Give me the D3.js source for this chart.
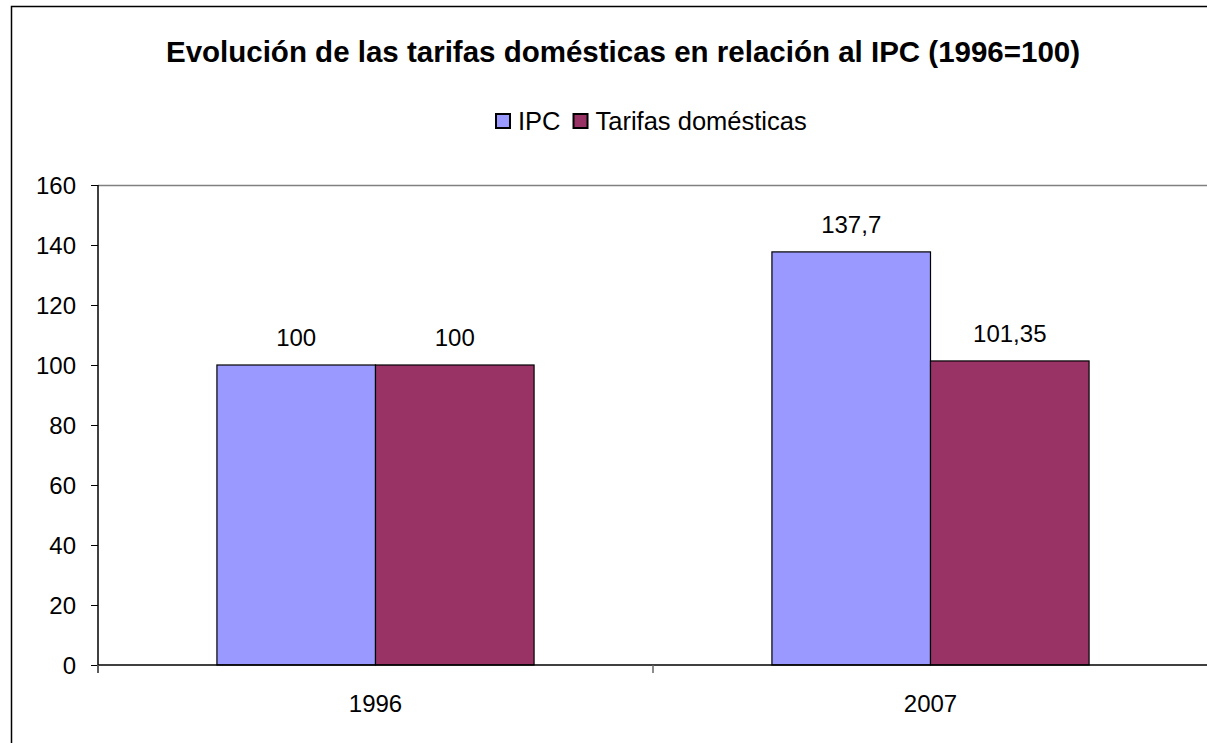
<!DOCTYPE html>
<html>
<head>
<meta charset="utf-8">
<script src="https://cdn.jsdelivr.net/npm/d3@7"></script>
<style>
  body { margin: 0; background: #fff; }
  text { font-family: "Liberation Sans", Arial, sans-serif; fill: #000; }
</style>
</head>
<body>
<div id="root"></div>
<script>
const years = ["1996", "2007"];
const seriesNames = ["IPC", "Tarifas domésticas"];
const ipc = [100, 137.7];
const tarifas = [100, 101.35];
const yTicks = [0, 20, 40, 60, 80, 100, 120, 140, 160];

const palette = ["#9999ff", "#993366"];

const W = 1207, H = 743;
const plot = {left: 98, top: 185, right: 1208, bottom: 665};

const svg = d3.select("#root").append("svg")
    .attr("width", W)
    .attr("height", H);

// outer chart frame (runs off the right and bottom edges)
svg.append("rect")
    .attr("x", 11.5).attr("y", 6.5)
    .attr("width", W + 20).attr("height", H + 20)
    .attr("fill", "none")
    .attr("stroke", "#000")
    .attr("stroke-width", 1.5);

svg.append("text")
    .attr("x", 623)
    .attr("y", 62)
    .attr("text-anchor", "middle")
    .style("font-weight", "bold")
    .style("font-size", "29.5px")
    .text("Evolución de las tarifas domésticas en relación al IPC (1996=100)");

const data = years.map((y, i) => ({year: y, values: [ipc[i], tarifas[i]]}));

const x0 = d3.scaleBand()
    .domain(years)
    .range([plot.left, plot.right])
    .paddingInner(0)
    .paddingOuter(0);

// gap width 150%: two bars take 2/3.5 of the band
const barW = x0.bandwidth() / 3.5;
const x1 = d3.scaleBand()
    .domain(seriesNames)
    .range([0, barW * 2]);

const y = d3.scaleLinear()
    .domain([0, 160])
    .range([plot.bottom, plot.top]);

// plot area top border
svg.append("line")
    .attr("x1", plot.left).attr("x2", plot.right)
    .attr("y1", plot.top + 0.5).attr("y2", plot.top + 0.5)
    .attr("stroke", "#808080")
    .attr("stroke-width", 1.5);

const groups = svg.selectAll(".grp")
    .data(data)
    .enter()
    .append("g")
    .attr("class", "grp")
    .attr("transform", (d) => "translate(" + (x0(d.year) + barW * 0.75) + ",0)");

groups.selectAll("rect")
    .data((d) => d.values.map((v, i) => ({name: seriesNames[i], value: v, i: i})))
    .enter()
    .append("rect")
    .attr("x", (d) => x1(d.name))
    .attr("y", (d) => y(d.value))
    .attr("width", x1.bandwidth())
    .attr("height", (d) => y(0) - y(d.value))
    .attr("fill", (d) => palette[d.i])
    .attr("stroke", "#000")
    .attr("stroke-width", 1.2);

groups.selectAll(".lbl")
    .data((d) => d.values.map((v, i) => ({name: seriesNames[i], value: v})))
    .enter()
    .append("text")
    .attr("class", "lbl")
    .attr("x", (d) => x1(d.name) + x1.bandwidth() / 2)
    .attr("y", (d) => y(d.value) - 19)
    .attr("text-anchor", "middle")
    .style("font-size", "24px")
    .text((d) => String(d.value).replace(".", ","));

// y axis
const yAxis = d3.axisLeft(y)
    .tickValues(yTicks)
    .tickSize(7)
    .tickPadding(15);

const yg = svg.append("g")
    .attr("transform", "translate(" + plot.left + ",0)")
    .call(yAxis);
yg.select(".domain").attr("stroke", "#000").attr("stroke-width", 1.5)
    .attr("d", "M0," + plot.top + "V" + (plot.bottom + 8));
yg.selectAll(".tick line").attr("stroke", "#000");
yg.selectAll(".tick text")
    .style("font-size", "24px")
    .style("font-family", "Liberation Sans, Arial, sans-serif")
    .attr("fill", "#000")
    .attr("dy", "0.35em");

// x axis: ticks sit between categories
const xg = svg.append("g")
    .attr("transform", "translate(0," + plot.bottom + ")");
xg.append("line")
    .attr("x1", plot.left).attr("x2", plot.right)
    .attr("y1", 0).attr("y2", 0)
    .attr("stroke", "#000").attr("stroke-width", 1.5);
xg.selectAll(".xt")
    .data(years.concat(["end"]))
    .enter()
    .append("line")
    .attr("class", "xt")
    .attr("x1", (d, i) => i < years.length ? x0(d) : plot.right)
    .attr("x2", (d, i) => i < years.length ? x0(d) : plot.right)
    .attr("y1", 0).attr("y2", 8)
    .attr("stroke", "#666").attr("stroke-width", 1.5);
xg.selectAll(".xl")
    .data(years)
    .enter()
    .append("text")
    .attr("class", "xl")
    .attr("x", (d) => x0(d) + x0.bandwidth() / 2)
    .attr("y", 47)
    .attr("text-anchor", "middle")
    .style("font-size", "24px")
    .text((d) => d);

// legend
const legend = svg.append("g")
    .attr("transform", "translate(495,121)");
let lx = 0;
seriesNames.forEach((name, i) => {
    legend.append("rect")
        .attr("x", lx + 1).attr("y", -7)
        .attr("width", 14).attr("height", 14)
        .attr("fill", palette[i])
        .attr("stroke", "#000").attr("stroke-width", 2);
    const t = legend.append("text")
        .attr("x", lx + 23)
        .attr("y", 8.5)
        .style("font-size", "25.5px")
        .text(name);
    lx += 23 + t.node().getComputedTextLength() + 12;
});
</script>
</body>
</html>
